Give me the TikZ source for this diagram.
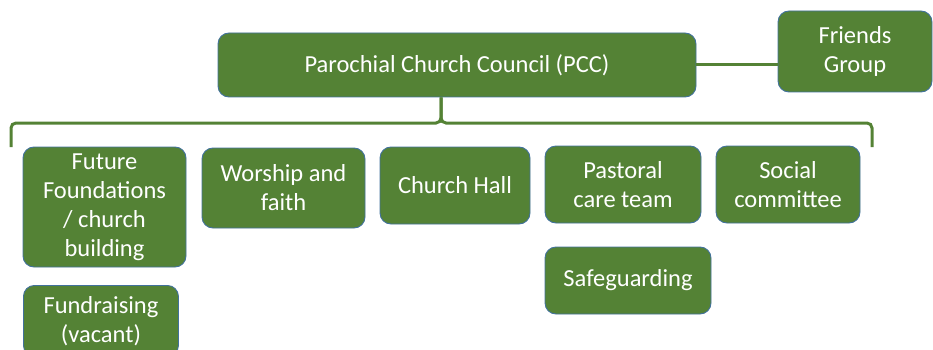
\documentclass[tikz,border=0pt]{standalone}
\usepackage{fontspec}
\setmainfont{Carlito}
\usepackage{tikz}
\usetikzlibrary{positioning, calc}

\definecolor{pccgreen}{HTML}{548235}
\definecolor{pccedge}{HTML}{41719C}

\begin{document}
\begin{tikzpicture}[
        x=1pt, y=-1pt,
        box/.style={draw=pccedge, line width=0.9pt, fill=pccgreen, rounded corners=11pt,
            text=white, align=center, inner sep=0pt,
            font=\fontsize{24.5}{29}\selectfont},
        link/.style={draw=pccgreen, line width=3pt},
        brace/.style={draw=pccgreen, line width=3pt, rounded corners=5pt}
    ]
    \useasboundingbox (0,0) rectangle (933,350);

    % Nodes
    \node[box, minimum width=478pt, minimum height=64pt] (pcc) at (457,65) {Parochial Church Council (PCC)};
    \node[box, minimum width=154pt, minimum height=81pt] (friends) at (855,51.5) {Friends\\Group};

    \node[box, minimum width=163pt, minimum height=120pt] (future) at (104.5,207) {Future\\Foundations\\/ church\\building};
    \node[box, minimum width=163pt, minimum height=80pt] (worship) at (283.5,188) {Worship and\\faith};
    \node[box, minimum width=150pt, minimum height=77pt] (hall) at (455,185.5) {Church Hall};
    \node[box, minimum width=156pt, minimum height=77pt] (pastoral) at (623,184.5) {Pastoral\\care team};
    \node[box, minimum width=144pt, minimum height=77pt] (social) at (788,184.5) {Social\\committee};
    \node[box, minimum width=166pt, minimum height=67pt] (safe) at (628,280.5) {Safeguarding};
    \node[box, minimum width=155pt, minimum height=71pt, anchor=north west] (fund) at (23,285) {Fundraising\\(vacant)};

    % Brace
    \coordinate (braceL) at (11,147);
    \coordinate (braceR) at (872,147);
    \coordinate (cusp) at (441,123);

    % Lines
    \draw[link] (pcc.east) -- (friends.west |- pcc.east);
    \draw[brace] (braceL) |- (cusp) -- (cusp |- pcc.south);
    \draw[brace] (braceR) |- (cusp) -- (cusp |- pcc.south);

\end{tikzpicture}
\end{document}
